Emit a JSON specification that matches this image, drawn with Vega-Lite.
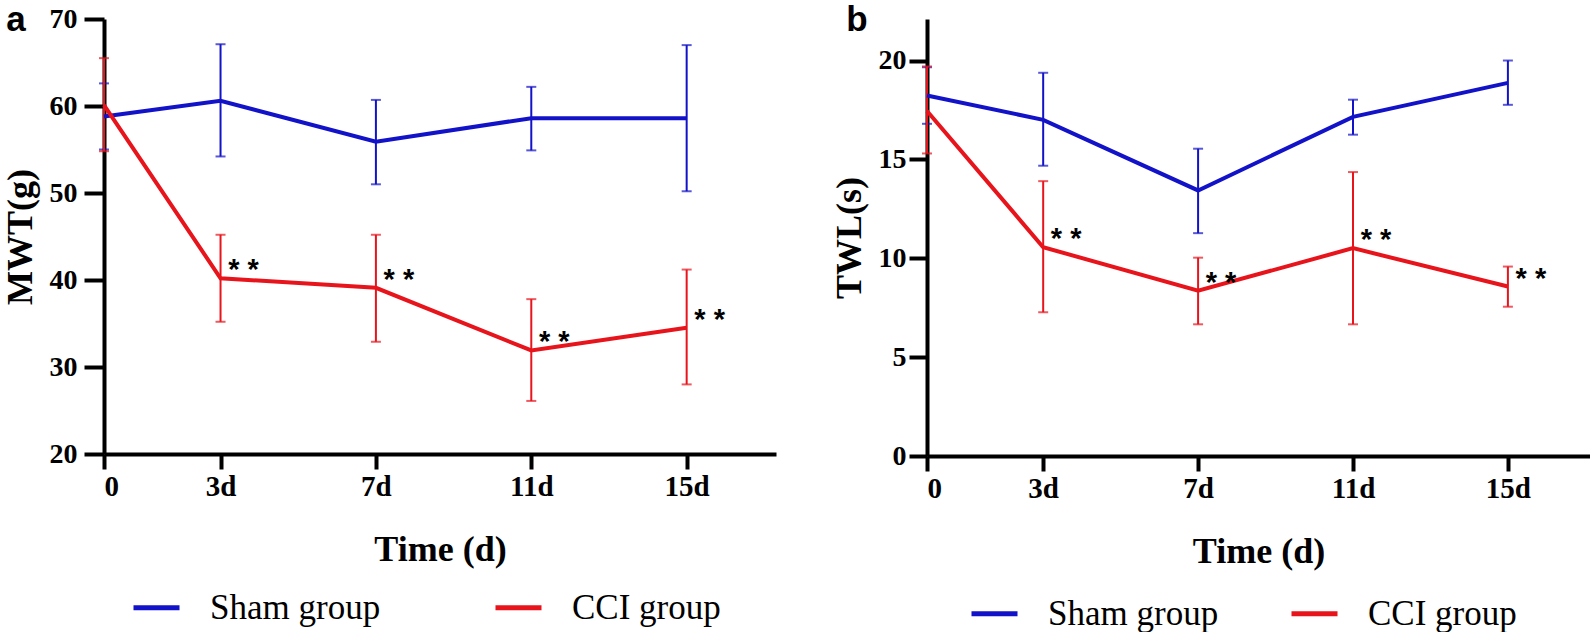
{
  "$schema": "https://vega.github.io/schema/vega-lite/v6.json",
  "padding": {"left": 2, "top": 3, "right": 0, "bottom": 0},
  "background": "white",
  "datasets": {
    "a": [
      {"group": "Sham group", "t": 0, "mean": 58.8, "lo": 55.0, "hi": 62.6},
      {"group": "Sham group", "t": 3, "mean": 60.6, "lo": 54.2, "hi": 67.1},
      {"group": "Sham group", "t": 7, "mean": 55.9, "lo": 51.0, "hi": 60.7},
      {"group": "Sham group", "t": 11, "mean": 58.6, "lo": 54.9, "hi": 62.2},
      {"group": "Sham group", "t": 15, "mean": 58.6, "lo": 50.2, "hi": 67.0},
      {"group": "CCI group", "t": 0, "mean": 60.1, "lo": 54.8, "hi": 65.5},
      {"group": "CCI group", "t": 3, "mean": 40.2, "lo": 35.2, "hi": 45.2},
      {"group": "CCI group", "t": 7, "mean": 39.1, "lo": 32.9, "hi": 45.2},
      {"group": "CCI group", "t": 11, "mean": 31.9, "lo": 26.1, "hi": 37.8},
      {"group": "CCI group", "t": 15, "mean": 34.5, "lo": 28.0, "hi": 41.2}
    ],
    "b": [
      {"group": "Sham group", "t": 0, "mean": 18.23, "lo": 16.8, "hi": 19.66},
      {"group": "Sham group", "t": 3, "mean": 17.0, "lo": 14.68, "hi": 19.38},
      {"group": "Sham group", "t": 7, "mean": 13.43, "lo": 11.27, "hi": 15.54},
      {"group": "Sham group", "t": 11, "mean": 17.15, "lo": 16.25, "hi": 18.02},
      {"group": "Sham group", "t": 15, "mean": 18.87, "lo": 17.76, "hi": 20.0},
      {"group": "CCI group", "t": 0, "mean": 17.45, "lo": 15.3, "hi": 19.7},
      {"group": "CCI group", "t": 3, "mean": 10.56, "lo": 7.27, "hi": 13.9},
      {"group": "CCI group", "t": 7, "mean": 8.36, "lo": 6.66, "hi": 10.03},
      {"group": "CCI group", "t": 11, "mean": 10.51, "lo": 6.66, "hi": 14.36},
      {"group": "CCI group", "t": 15, "mean": 8.57, "lo": 7.55, "hi": 9.58}
    ],
    "labels": [{"panel": "a"}]
  },
  "hconcat": [
    {
      "width": 672,
      "height": 435,
      "layer": [
        {
          "data": {"name": "a"},
          "mark": {"type": "errorbar", "thickness": 2, "ticks": {"size": 10}},
          "encoding": {
            "x": {"field": "t", "type": "quantitative", "scale": {"domain": [0, 17.3], "nice": false},
              "axis": {"values": [0, 3, 7, 11, 15], "labelExpr": "datum.value == 0 ? '0' : datum.value + 'd'", "title": "Time (d)"}},
            "y": {"field": "lo", "type": "quantitative", "scale": {"domain": [20, 70], "nice": false, "zero": false},
              "axis": {"values": [20, 30, 40, 50, 60, 70], "title": "MWT(g)"}},
            "y2": {"field": "hi"},
            "color": {"field": "group", "type": "nominal",
              "scale": {"domain": ["Sham group", "CCI group"], "range": ["#1212C8", "#E8141C"]}}
          }
        },
        {
          "data": {"name": "a"},
          "mark": {"type": "line", "strokeWidth": 4},
          "encoding": {
            "x": {"field": "t", "type": "quantitative"},
            "y": {"field": "mean", "type": "quantitative"},
            "color": {"field": "group", "type": "nominal",
              "legend": {"orient": "none", "legendX": 27, "legendY": 563, "direction": "horizontal", "title": null,
                "symbolType": "stroke", "symbolSize": 2116, "symbolStrokeWidth": 5, "symbolOpacity": 1, "labelFont": "Liberation Serif",
                "labelFontSize": 35, "labelColor": "black", "labelOffset": 28, "columnPadding": 104, "padding": 0, "labelLimit": 400,
                "encode": {"symbols": {"update": {"opacity": {"value": 1}, "strokeOpacity": {"value": 1}}}}}}
          }
        },
        {
          "data": {"name": "a"},
          "transform": [{"filter": "datum.group == 'CCI group' && datum.t > 0"}],
          "mark": {"type": "text", "text": "* *", "dx": 23, "dy": -8, "font": "Liberation Sans", "fontWeight": "bold", "fontSize": 29, "baseline": "middle", "align": "center", "color": "black"},
          "encoding": {
            "x": {"field": "t", "type": "quantitative"},
            "y": {"field": "mean", "type": "quantitative"}
          }
        },
        {
          "data": {"name": "labels"},
          "mark": {"type": "text", "dx": -88, "dy": 12, "font": "Liberation Sans", "fontWeight": "bold", "fontSize": 35, "align": "center", "baseline": "alphabetic", "color": "black"},
          "encoding": {
            "x": {"datum": 0, "type": "quantitative"},
            "y": {"datum": 70, "type": "quantitative"},
            "text": {"value": "a"}
          }
        }
      ]
    },
    {
      "width": 663,
      "height": 437,
      "layer": [
        {
          "data": {"name": "b"},
          "mark": {"type": "errorbar", "thickness": 2, "ticks": {"size": 10}},
          "encoding": {
            "x": {"field": "t", "type": "quantitative", "scale": {"domain": [0, 17.12], "nice": false},
              "axis": {"values": [0, 3, 7, 11, 15], "labelExpr": "datum.value == 0 ? '0' : datum.value + 'd'", "title": "Time (d)"}},
            "y": {"field": "lo", "type": "quantitative", "scale": {"domain": [0, 22.1], "nice": false},
              "axis": {"values": [0, 5, 10, 15, 20], "title": "TWL(s)", "tickSize": 18, "labelPadding": 3}},
            "y2": {"field": "hi"},
            "color": {"field": "group", "type": "nominal",
              "scale": {"domain": ["Sham group", "CCI group"], "range": ["#1212C8", "#E8141C"]}}
          }
        },
        {
          "data": {"name": "b"},
          "mark": {"type": "line", "strokeWidth": 4},
          "encoding": {
            "x": {"field": "t", "type": "quantitative"},
            "y": {"field": "mean", "type": "quantitative"},
            "color": {"field": "group", "type": "nominal",
              "legend": {"orient": "none", "legendX": 42, "legendY": 569, "direction": "horizontal", "title": null,
                "symbolType": "stroke", "symbolSize": 2116, "symbolStrokeWidth": 5, "symbolOpacity": 1, "labelFont": "Liberation Serif",
                "labelFontSize": 35, "labelColor": "black", "labelOffset": 28, "columnPadding": 62, "padding": 0, "labelLimit": 400,
                "encode": {"symbols": {"update": {"opacity": {"value": 1}, "strokeOpacity": {"value": 1}}}}}}
          }
        },
        {
          "data": {"name": "b"},
          "transform": [{"filter": "datum.group == 'CCI group' && datum.t > 0"}],
          "mark": {"type": "text", "text": "* *", "dx": 23, "dy": -8, "font": "Liberation Sans", "fontWeight": "bold", "fontSize": 29, "baseline": "middle", "align": "center", "color": "black"},
          "encoding": {
            "x": {"field": "t", "type": "quantitative"},
            "y": {"field": "mean", "type": "quantitative"}
          }
        },
        {
          "data": {"name": "labels"},
          "mark": {"type": "text", "dx": -70, "dy": 12, "font": "Liberation Sans", "fontWeight": "bold", "fontSize": 35, "align": "center", "baseline": "alphabetic", "color": "black"},
          "encoding": {
            "x": {"datum": 0, "type": "quantitative"},
            "y": {"datum": 22.1, "type": "quantitative"},
            "text": {"value": "b"}
          }
        }
      ]
    }
  ],
  "spacing": 55,
  "resolve": {"scale": {"color": "independent"}, "legend": {"color": "independent"}},
  "config": {
    "view": {"stroke": null},
    "axis": {
      "grid": false,
      "domainColor": "black", "domainWidth": 4,
      "tickColor": "black", "tickWidth": 4,
      "labelFont": "Liberation Serif", "labelFontWeight": "bold", "labelColor": "black", "labelFontSize": 28,
      "titleFont": "Liberation Serif", "titleFontWeight": "bold", "titleColor": "black", "titleFontSize": 36
    },
    "axisX": {"tickSize": 15, "labelPadding": 3, "titlePadding": 31, "labelFontSize": 29},
    "axisY": {"tickSize": 20, "labelPadding": 7, "titlePadding": 10}
  }
}
